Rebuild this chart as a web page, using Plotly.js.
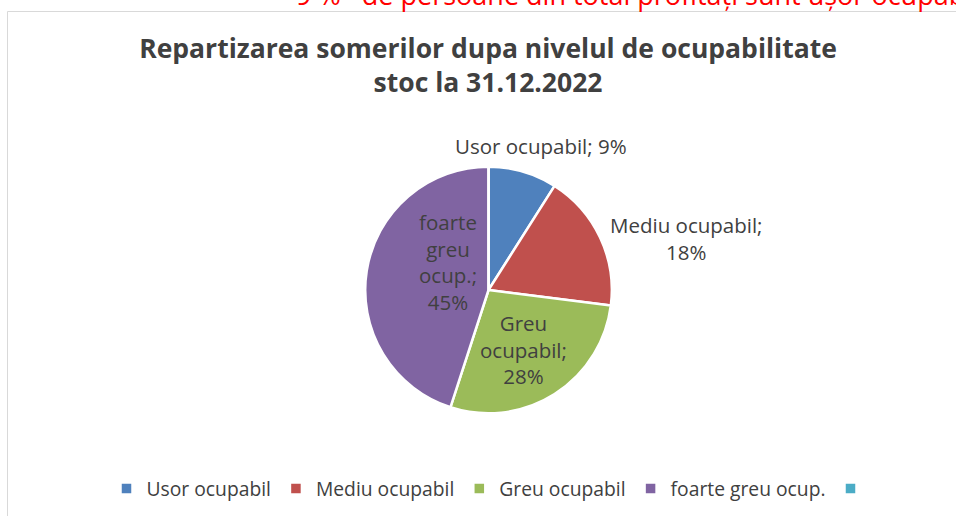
<!DOCTYPE html>
<html>
<head>
<meta charset="utf-8">
<script src="https://cdn.plot.ly/plotly-3.0.1.min.js"></script>
<style>html,body{margin:0;padding:0;background:#fff;}#chart{width:956px;height:516px;}</style>
</head>
<body>
<div id="chart"></div>
<script>
// ---- data ----
const categories = ['Usor ocupabil', 'Mediu ocupabil', 'Greu ocupabil', 'foarte greu ocup.', ' '];
const shares = [9, 18, 28, 45, 0];
// label text as shown on the chart (line breaks)
const labelLines = [
  ['Usor ocupabil; 9%'],
  ['Mediu ocupabil;', '18%'],
  ['Greu', 'ocupabil;', '28%'],
  ['foarte', 'greu', 'ocup.;', '45%']
];
const titleLines = ['Repartizarea somerilor dupa nivelul de ocupabilitate', 'stoc la 31.12.2022'];
const noteText = '9\u00a0%\u00a0\u00a0 de persoane din total profitați sunt ușor ocupabili';

// ---- styles ----
const colors = ['#4F81BD', '#C0504D', '#9BBB59', '#8064A2', '#4BACC6'];
const textColor = '#404040';
const font = 'Open Sans, sans-serif';
const labelPos = [
  {x: 541, y: 146},
  {x: 686, y: 238.5},
  {x: 523, y: 349},
  {x: 448, y: 262}
];
const W = 956, H = 516;
const px = x => x / W, py = y => (H - y) / H;

const trace = {
  type: 'pie',
  labels: categories,
  values: shares,
  sort: false,
  direction: 'clockwise',
  rotation: 0,
  textinfo: 'none',
  hoverinfo: 'label+percent',
  marker: {colors: colors, line: {color: '#ffffff', width: 2.5}},
  domain: {x: [0.301, 0.721], y: [py(290 + 123.3), py(290 - 123.3)]},
  showlegend: true
};

const annotations = labelLines.map((lines, i) => ({
  text: lines.join('<br>'),
  x: px(labelPos[i].x), y: py(labelPos[i].y),
  xref: 'paper', yref: 'paper',
  xanchor: 'center', yanchor: 'middle',
  showarrow: false,
  font: {family: font, size: 20.5, color: textColor}
}));
annotations.push({
  text: noteText,
  x: px(294), y: py(15),
  xref: 'paper', yref: 'paper',
  xanchor: 'left', yanchor: 'bottom',
  showarrow: false,
  font: {family: font, size: 27, color: '#FF0000'}
});

const layout = {
  width: W, height: H,
  margin: {l: 0, r: 0, t: 0, b: 0},
  paper_bgcolor: '#ffffff',
  title: {
    text: '<b>' + titleLines[0] + '</b><br><b>' + titleLines[1] + '</b>',
    x: px(488), xanchor: 'center',
    y: py(57.5), yanchor: 'middle', yref: 'paper',
    font: {family: font, size: 26.5, color: textColor}
  },
  showlegend: true,
  legend: {
    orientation: 'h',
    x: px(494), xanchor: 'center',
    y: py(489), yanchor: 'middle',
    font: {family: font, size: 19.3, color: textColor},
    bgcolor: 'rgba(0,0,0,0)'
  },
  shapes: [{
    type: 'rect', xref: 'paper', yref: 'paper',
    x0: px(7.5), x1: 1.1, y0: -0.1, y1: py(11.5),
    line: {color: '#D9D9D9', width: 1}
  }],
  annotations: annotations
};

Plotly.newPlot('chart', [trace], layout, {displayModeBar: false, staticPlot: true});
</script>
</body>
</html>
